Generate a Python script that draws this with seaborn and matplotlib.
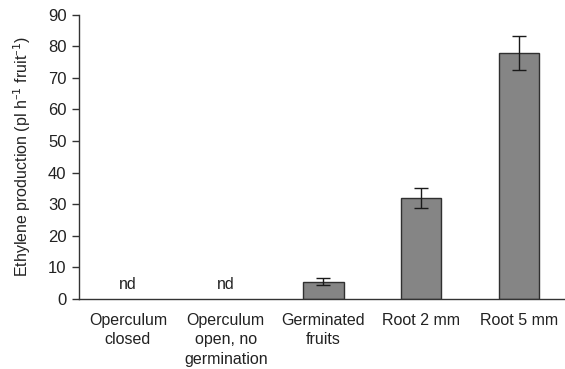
import matplotlib
matplotlib.use("Agg")
import matplotlib.pyplot as plt
import seaborn as sns
import pandas as pd
from matplotlib.ticker import FixedLocator

categories = ["Operculum\nclosed", "Operculum\nopen, no\ngermination",
              "Germinated\nfruits", "Root 2 mm", "Root 5 mm"]
values = [0.0, 0.0, 5.5, 32.0, 78.0]
errors = [0.0, 0.0, 1.2, 3.1, 5.4]
not_detected = [True, True, False, False, False]
yticks = [0, 10, 20, 30, 40, 50, 60, 70, 80, 90]

sns.set_theme(style="white")
plt.rcParams["font.family"] = ["Liberation Sans", "DejaVu Sans"]

df = pd.DataFrame({"stage": categories, "ethylene": values})

fig = plt.figure(figsize=(5.65, 3.69), dpi=100)
ax = fig.add_axes([0.14, 0.19, 0.865, 0.77])

sns.barplot(data=df, x="stage", y="ethylene", color="#858585",
            edgecolor="#303030", linewidth=1.0, width=0.41, ax=ax,
            saturation=1.0)

# stages with no detectable ethylene get no visible bar outline
for patch in ax.patches:
    if patch.get_height() == 0:
        patch.set_linewidth(0)
        patch.set_edgecolor("none")

xs = range(len(categories))
for x, v, e, nd in zip(xs, values, errors, not_detected):
    if nd:
        ax.text(x, 2.3, "nd", ha="center", va="bottom", fontsize=11.5,
                color="#222222")
    else:
        ax.errorbar(x, v, yerr=e, fmt="none", ecolor="#1a1a1a",
                    elinewidth=1.0, capsize=5, capthick=1.0)

ax.set_xlim(-0.5, len(categories) - 0.5)
ax.set_ylim(0, 90)
ax.set_yticks(yticks)
ax.set_yticklabels([str(t) for t in yticks], fontsize=12, color="#222222")
ax.set_xticks(list(xs))
ax.set_xticklabels(categories, fontsize=11.5, color="#222222", linespacing=1.38)
ax.tick_params(axis="x", which="major", length=0, pad=10)
ax.xaxis.set_minor_locator(FixedLocator([0.5, 1.5, 2.5, 3.5]))
ax.tick_params(axis="x", which="minor", length=4, width=1.0,
               color="#333333", direction="out")
ax.tick_params(axis="y", which="major", length=5, width=1.0,
               color="#333333", direction="out", left=True, pad=4)
ax.set_xlabel("")
ax.set_ylabel("Ethylene production (pl h$^{\u2013 1}$ fruit$^{\u2013 1}$)",
              fontsize=11.5, color="#222222", labelpad=11)

for side in ["top", "right"]:
    ax.spines[side].set_visible(False)
for side in ["left", "bottom"]:
    ax.spines[side].set_color("#333333")
    ax.spines[side].set_linewidth(1.0)

fig.savefig("out.png", dpi=100, facecolor="white")
